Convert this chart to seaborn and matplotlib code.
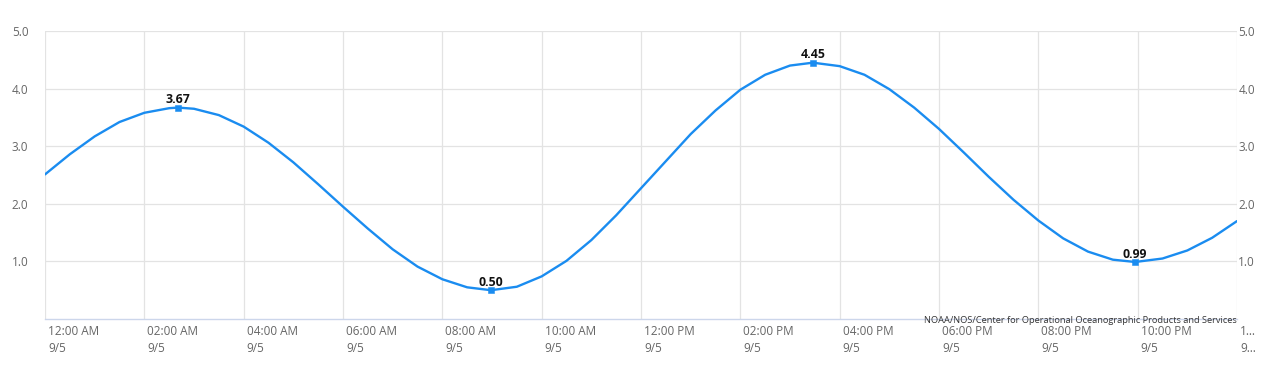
import matplotlib
matplotlib.use("Agg")
import matplotlib.pyplot as plt
import matplotlib.transforms as mtransforms
import numpy as np
import pandas as pd
import seaborn as sns

# hours after midnight 9/5 and predicted water level (ft)
hours = [0, 0.5, 1, 1.5, 2, 2.5, 2.68, 3, 3.5, 4, 4.5, 5, 5.5, 6, 6.5, 7, 7.5, 8, 8.5, 8.98,
         9.5, 10, 10.5, 11, 11.5, 12, 12.5, 13, 13.5, 14, 14.5, 15, 15.46,
         16, 16.5, 17, 17.5, 18, 18.5, 19, 19.5, 20, 20.5, 21, 21.5, 21.95,
         22.5, 23, 23.5, 24]
level = [2.51, 2.86, 3.17, 3.42, 3.58, 3.66, 3.67, 3.65, 3.54, 3.34, 3.06, 2.72, 2.34, 1.95, 1.57, 1.21, 0.91, 0.69, 0.55, 0.50,
         0.56, 0.74, 1.01, 1.37, 1.80, 2.27, 2.74, 3.21, 3.62, 3.98, 4.24, 4.40, 4.45,
         4.39, 4.24, 3.99, 3.67, 3.30, 2.89, 2.47, 2.07, 1.71, 1.40, 1.17, 1.03, 0.99,
         1.05, 1.19, 1.41, 1.70]

# high / low extremes with labels
peak_hours = [2.68, 8.98, 15.46, 21.95]
peak_level = [3.67, 0.50, 4.45, 0.99]

x_ticks = list(range(0, 25, 2))
x_labels = ["12:00 AM\n9/5", "02:00 AM\n9/5", "04:00 AM\n9/5", "06:00 AM\n9/5",
            "08:00 AM\n9/5", "10:00 AM\n9/5", "12:00 PM\n9/5", "02:00 PM\n9/5",
            "04:00 PM\n9/5", "06:00 PM\n9/5", "08:00 PM\n9/5", "10:00 PM\n9/5",
            "1…\n9…"]
y_ticks = [1.0, 2.0, 3.0, 4.0, 5.0]

credit = "NOAA/NOS/Center for Operational Oceanographic Products and Services"

line_color = "#1a8cf0"
grid_color = "#e3e3e3"
text_color = "#666666"

df = pd.DataFrame({"hour": hours, "level": level})
peaks = pd.DataFrame({"hour": peak_hours, "level": peak_level})

sns.set_style("white")
plt.rcParams["font.family"] = ["Open Sans", "DejaVu Sans"]

fig = plt.figure(figsize=(12.7, 3.8), dpi=100)
ax = fig.add_axes([45 / 1270, 1 - 319 / 380, 1192 / 1270, 288 / 380])

sns.lineplot(data=df, x="hour", y="level", ax=ax, color=line_color, linewidth=1.7,
             solid_joinstyle="round", solid_capstyle="round")
sns.scatterplot(data=peaks, x="hour", y="level", ax=ax, color=line_color, marker="s",
                s=22, edgecolor=line_color, zorder=5)

for h, v in zip(peak_hours, peak_level):
    ax.annotate(f"{v:.2f}", (h, v), xytext=(0, 1), textcoords="offset points",
                ha="center", va="bottom", fontsize=8.8, fontweight="bold", color="#111111")

ax.set_xlim(0, 24)
ax.set_ylim(0, 5)
ax.set_xlabel("")
ax.set_ylabel("")

# grid
for t in x_ticks:
    ax.axvline(t, color=grid_color, linewidth=0.9, zorder=0)
for t in y_ticks:
    ax.axhline(t, color=grid_color, linewidth=0.9, zorder=0)

for s in ["top", "right", "left"]:
    ax.spines[s].set_visible(False)
ax.spines["bottom"].set_color("#ccd6eb")
ax.spines["bottom"].set_linewidth(1.0)

ax.set_xticks(x_ticks)
ax.set_xticklabels(x_labels, fontsize=8.5, color=text_color, linespacing=1.45)
ax.tick_params(axis="x", length=5, color=grid_color, pad=-1)
offset = mtransforms.ScaledTranslation(3 / 100, 0, fig.dpi_scale_trans)
for lab in ax.get_xticklabels():
    lab.set_horizontalalignment("left")
    lab.set_transform(lab.get_transform() + offset)

ax.set_yticks(y_ticks)
ax.set_yticklabels([f"{t:.1f}" for t in y_ticks], fontsize=8.5, color=text_color)
ax.tick_params(axis="y", length=0, pad=12)

ax2 = ax.twinx()
ax2.set_ylim(0, 5)
ax2.set_yticks(y_ticks)
ax2.set_yticklabels([f"{t:.1f}" for t in y_ticks], fontsize=8.5, color=text_color)
ax2.tick_params(axis="y", length=0, pad=1)
for s in ax2.spines.values():
    s.set_visible(False)

fig.text(1237 / 1270, 1 - 323 / 380, credit, ha="right", va="baseline",
         fontsize=6.7, color="#333333")

fig.savefig("out.png", dpi=100)
